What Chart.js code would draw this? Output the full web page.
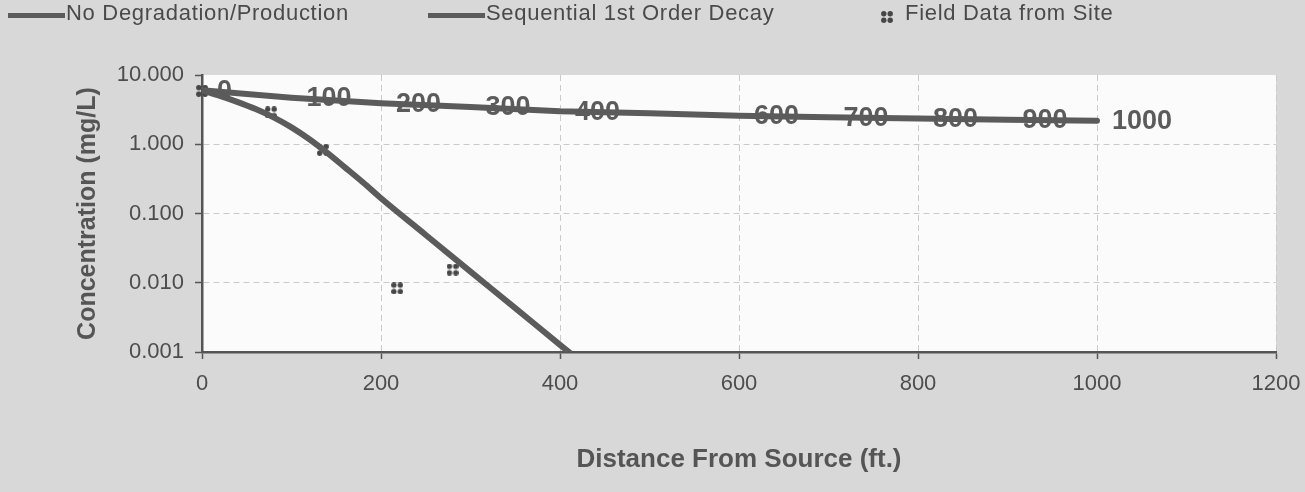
<!DOCTYPE html>
<html>
<head>
<meta charset="utf-8">
<script src="https://cdn.jsdelivr.net/npm/chart.js@4.4.1/dist/chart.umd.min.js"></script>
<style>
  html, body { margin: 0; padding: 0; background: #d8d8d8; }
  #wrap { position: relative; width: 1305px; height: 492px; overflow: hidden; }
  #chart { position: absolute; left: 0; top: 0; }
  #legend { position: absolute; left: 0; top: 0; width: 1305px; height: 40px;
            font-family: "Liberation Sans", Arial, sans-serif; font-size: 22px; color: #4a4a4a; }
  .lg-text { position: absolute; top: 1px; height: 24px; line-height: 24px; white-space: nowrap; letter-spacing: 0.7px; }
  .lg-line { position: absolute; top: 13px; width: 57px; height: 5px; background: #5b5b5b; }
  .lg-mark { position: absolute; top: 11px; }
</style>
</head>
<body>
<div id="wrap">
  <canvas id="chart" width="1305" height="492"></canvas>
  <div id="legend"></div>
</div>
<script>
// ---------------- data ----------------
const seriesNames = ['No Degradation/Production', 'Sequential 1st Order Decay', 'Field Data from Site'];

const distNoDeg   = [0, 100, 200, 300, 400, 500, 600, 700, 800, 900, 1000];
const concNoDeg   = [6.0, 4.7, 3.9, 3.45, 3.0, 2.8, 2.57, 2.45, 2.35, 2.25, 2.18];
const noDegLabels = ['0', '100', '200', '300', '400', '', '600', '700', '800', '900', '1000'];

const distDecay = [0, 20, 40, 60, 80, 100, 120, 140, 160, 180, 200, 250, 300, 350, 400, 450];
const concDecay = [6.0, 4.99, 4.06, 3.22, 2.44, 1.75, 1.18, 0.75, 0.46, 0.28, 0.166, 0.049, 0.0145, 0.0043, 0.00127, 0.00038];

const distField = [0, 77, 135, 218, 280];
const concField = [5.9, 2.88, 0.83, 0.0083, 0.0155];

const xTickStep = 200;
const xMin = 0, xMax = 1200;
const yTickValues = [0.001, 0.01, 0.1, 1, 10];

// ---------------- styling ----------------
const FONT = '"Liberation Sans", Arial, sans-serif';
const LINE_COLOR = '#5b5b5b';
const TEXT_COLOR = '#4d4d4d';
Chart.defaults.font.family = FONT;

function makeMarker() {
  const c = document.createElement('canvas');
  c.width = 12; c.height = 12;
  const g = c.getContext('2d');
  g.fillStyle = '#474747';
  [[2.8, 2.8], [9.2, 2.8], [2.8, 9.2], [9.2, 9.2]].forEach(([cx, cy]) => {
    g.beginPath(); g.arc(cx, cy, 2.7, 0, Math.PI * 2); g.fill();
  });
  return c;
}
const marker = makeMarker();

const toXY = (xs, ys) => xs.map((x, i) => ({ x: x, y: ys[i] }));

const areaBg = {
  id: 'areaBg',
  beforeDraw(chart) {
    const { ctx, chartArea: a } = chart;
    ctx.save();
    ctx.fillStyle = '#fbfbfb';
    ctx.fillRect(a.left, a.top, a.right - a.left, a.bottom - a.top);
    ctx.restore();
  }
};

const pointLabels = {
  id: 'pointLabels',
  afterDatasetsDraw(chart) {
    const meta = chart.getDatasetMeta(0);
    const ctx = chart.ctx;
    ctx.save();
    ctx.font = 'bold 27px ' + FONT;
    ctx.fillStyle = LINE_COLOR;
    ctx.textAlign = 'left';
    ctx.textBaseline = 'middle';
    meta.data.forEach((pt, i) => {
      const t = noDegLabels[i];
      if (t) ctx.fillText(t, pt.x + 15, pt.y + 1);
    });
    ctx.restore();
  }
};

const gridColor = (ctx) => (ctx.tick && ctx.tick.value === 10) ? 'rgba(0,0,0,0)' : '#cacaca';

const chart = new Chart(document.getElementById('chart'), {
  type: 'line',
  data: {
    datasets: [
      {
        label: seriesNames[0],
        data: toXY(distNoDeg, concNoDeg),
        borderColor: LINE_COLOR, backgroundColor: LINE_COLOR,
        borderWidth: 6, pointRadius: 0, borderCapStyle: 'round', borderJoinStyle: 'round',
        tension: 0
      },
      {
        label: seriesNames[1],
        data: toXY(distDecay, concDecay),
        borderColor: LINE_COLOR, backgroundColor: LINE_COLOR,
        borderWidth: 6, pointRadius: 0, borderCapStyle: 'round', borderJoinStyle: 'round',
        cubicInterpolationMode: 'monotone'
      },
      {
        label: seriesNames[2],
        data: toXY(distField, concField),
        showLine: false,
        pointStyle: marker, pointRadius: 6,
        borderColor: '#474747', backgroundColor: '#474747',
        clip: false
      }
    ]
  },
  options: {
    responsive: false,
    animation: false,
    layout: { padding: { top: 75, right: 29, bottom: 0, left: 0 } },
    plugins: { legend: { display: false }, tooltip: { enabled: false } },
    scales: {
      x: {
        type: 'linear', min: xMin, max: xMax,
        afterFit: s => { s.height = 140; s.paddingRight = 0; s.paddingLeft = 0; },
        ticks: { stepSize: xTickStep, callback: v => String(v), font: { size: 22 }, color: TEXT_COLOR, padding: 12 },
        grid: { color: '#cacaca', lineWidth: 1, tickLength: 7, tickColor: '#555', tickWidth: 1.5 },
        border: { display: true, color: '#555', width: 2.5, dash: [6, 4] },
        title: { display: true, text: 'Distance From Source (ft.)', color: '#555',
                 font: { size: 26, weight: 'bold' }, padding: { top: 0, bottom: 17 } }
      },
      y: {
        type: 'logarithmic', min: yTickValues[0], max: yTickValues[yTickValues.length - 1],
        afterBuildTicks: s => { s.ticks = yTickValues.map(v => ({ value: v })); },
        afterFit: s => { s.width = 202; },
        ticks: { callback: v => Number(v).toFixed(3), font: { size: 22 }, color: TEXT_COLOR, padding: 11 },
        grid: { color: gridColor, lineWidth: 1, tickLength: 7, tickColor: '#555', tickWidth: 1.5 },
        border: { display: true, color: '#555', width: 2.5, dash: [6, 4] },
        title: { display: true, text: 'Concentration (mg/L)', color: '#555',
                 font: { size: 25, weight: 'bold' }, padding: { top: 73, bottom: 0 } }
      }
    }
  },
  plugins: [areaBg, pointLabels]
});

// ---------------- HTML legend built from the chart's datasets ----------------
(function buildLegend() {
  const lg = document.getElementById('legend');
  const slots = [{ sw: 8, tx: 66 }, { sw: 428, tx: 486 }, { sw: 881, tx: 905 }];
  chart.data.datasets.forEach((ds, i) => {
    const s = slots[i];
    if (ds.showLine === false) {
      const c = document.createElement('canvas');
      c.width = marker.width; c.height = marker.height;
      c.getContext('2d').drawImage(marker, 0, 0);
      c.className = 'lg-mark';
      c.style.left = s.sw + 'px';
      lg.appendChild(c);
    } else {
      const l = document.createElement('div');
      l.className = 'lg-line';
      l.style.left = s.sw + 'px';
      l.style.background = ds.borderColor;
      lg.appendChild(l);
    }
    const t = document.createElement('div');
    t.className = 'lg-text';
    t.style.left = s.tx + 'px';
    t.textContent = ds.label;
    lg.appendChild(t);
  });
})();
</script>
</body>
</html>
